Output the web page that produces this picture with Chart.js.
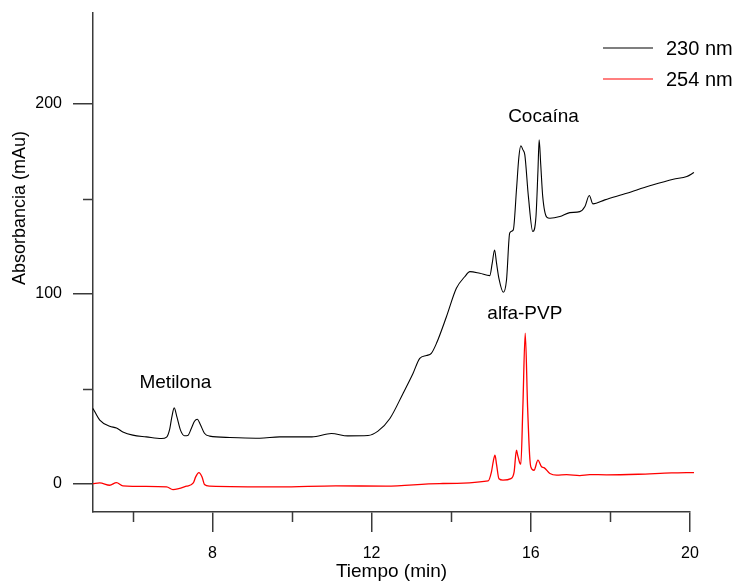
<!DOCTYPE html>
<html>
<head>
<meta charset="utf-8">
<script src="https://cdn.jsdelivr.net/npm/chart.js@4"></script>
<style>
  html, body { margin: 0; padding: 0; background: #fff; }
  #wrap { width: 738px; height: 582px; }
</style>
</head>
<body>
<div id="wrap"><canvas id="mychart" width="738" height="582"></canvas></div>
<script>
// Tiempo (min) / Absorbancia (mAu)
let t230 = [5.0, 5.17, 5.42, 5.59, 5.75, 6.0, 6.34, 6.72, 6.85, 6.93, 6.98, 7.04, 7.11, 7.2, 7.3, 7.38, 7.47, 7.55, 7.62, 7.7, 7.8, 7.93,
    8.44, 9.19, 9.69, 10.5, 10.99, 11.4, 11.91, 12.16, 12.46, 12.79, 13.04, 13.21, 13.38, 13.5, 13.63, 13.88, 14.13, 14.34, 14.47,
    14.72, 14.97, 15.03, 15.09, 15.14, 15.2, 15.31, 15.39, 15.47, 15.56, 15.64, 15.7, 15.75, 15.8, 15.85, 15.94, 16.05, 16.13, 16.18,
    16.21, 16.25, 16.3, 16.4, 16.48, 16.73, 16.98, 17.23, 17.36, 17.47, 17.56, 17.86, 18.41, 18.99, 19.58, 19.92, 20.1];
let a230 = [39.6, 33.4, 30.2, 29.3, 27.2, 25.5, 24.6, 23.7, 24.5, 29, 35, 39.9, 35, 28, 25.2, 25.3, 29, 32.8, 33.9, 31, 26.5, 25,
    24.3, 23.9, 24.6, 24.6, 26.4, 25.1, 25.3, 27.6, 34.3, 47.5, 58, 66, 67.5, 68.6, 73.9, 87.9, 102.9, 109, 111.7,
    110.8, 109.6, 116, 123.1, 116, 108, 100.8, 107.3, 132, 133.7, 154.8, 172, 178, 176, 173.2, 151.2, 132.8, 140.7, 165,
    181.2, 168, 151.2, 140.4, 139.8, 140.7, 142.8, 143.3, 146, 151.8, 147.4, 149.5, 153, 156.9, 160.4, 161.8, 163.9];

let t254 = [5.0, 5.17, 5.42, 5.59, 5.75, 6.85, 7.01, 7.35, 7.52, 7.58, 7.66, 7.74, 7.8, 7.93, 9.69, 11.1, 12.36, 13.71, 14.93, 15.01,
    15.06, 15.1, 15.14, 15.2, 15.3, 15.5, 15.58, 15.64, 15.67, 15.72, 15.75, 15.8, 15.86, 15.92, 15.97, 16.0, 16.08, 16.18, 16.27,
    16.33, 16.48, 16.65, 16.9, 17.23, 17.48, 17.9, 18.7, 19.54, 20.1];
let a254 = [0, 0.3, -0.9, 0.5, -1.2, -1.8, -3.2, -1.4, 0.3, 3.5, 5.8, 3.5, -0.5, -1.4, -1.8, -1.2, -1.4, 0, 1.4, 6,
    12, 14.9, 10, 2.5, 1.8, 2.6, 6, 17.6, 15, 11, 10.2, 40, 79.2, 40, 15, 8.8, 7, 12.3, 8.8,
    8.4, 5.3, 4.4, 4.7, 4.2, 4.7, 4.6, 4.9, 5.6, 5.8];

let seriesNames = ['230 nm', '254 nm'];
let seriesColors = ['#000000', '#ff0000'];

let xMajor = [8, 12, 16, 20];
let xMinor = [6, 10, 14, 18];
let yMajor = [0, 100, 200];
let yMinor = [50, 150];

let picos = [
    {name: 'Metilona', t: 7.07, a: 53},
    {name: 'Cocaína', t: 16.32, a: 193.5},
    {name: 'alfa-PVP', t: 15.85, a: 89.7}
];

function pairs(xs, ys) {
    let out = [];
    for (let i = 0; i < xs.length; i++) {
        out.push({x: xs[i], y: ys[i]});
    }
    return out;
}

const FONT = '"Liberation Sans", Arial, sans-serif';
const AXIS = '#3a3a3a';

// minor ticks, legend, peak names and axis titles
const extras = {
    id: 'extras',
    afterDraw(chart) {
        let ctx = chart.ctx;
        let xs = chart.scales.x, ys = chart.scales.y;
        let area = chart.chartArea;
        ctx.save();
        ctx.strokeStyle = AXIS;
        ctx.lineWidth = 1.5;
        ctx.beginPath();
        xMinor.forEach(v => {
            let px = Math.round(xs.getPixelForValue(v)) + 0.5;
            ctx.moveTo(px, area.bottom);
            ctx.lineTo(px, area.bottom + 10);
        });
        yMinor.forEach(v => {
            let py = Math.round(ys.getPixelForValue(v)) + 0.5;
            ctx.moveTo(area.left, py);
            ctx.lineTo(area.left - 10, py);
        });
        ctx.stroke();

        // legend
        ctx.font = '20px ' + FONT;
        ctx.textBaseline = 'middle';
        ctx.textAlign = 'left';
        chart.data.datasets.forEach((ds, i) => {
            let y = 48 + i * 31;
            ctx.strokeStyle = ds.borderColor;
            ctx.lineWidth = 1.2;
            ctx.beginPath();
            ctx.moveTo(603, y);
            ctx.lineTo(653, y);
            ctx.stroke();
            ctx.fillStyle = '#000';
            ctx.fillText(ds.label, 666, y + 1);
        });

        // peak names
        ctx.font = '19px ' + FONT;
        ctx.textAlign = 'center';
        picos.forEach(p => {
            ctx.fillText(p.name, xs.getPixelForValue(p.t), ys.getPixelForValue(p.a));
        });

        // axis titles
        ctx.fillText('Tiempo (min)', (area.left + area.right) / 2, 572);
        ctx.translate(20, 208);
        ctx.rotate(-Math.PI / 2);
        ctx.font = '18px ' + FONT;
        ctx.fillText('Absorbancia (mAu)', 0, 0);
        ctx.restore();
    }
};

let ctx = document.getElementById('mychart').getContext('2d');
let chart = new Chart(ctx, {
    type: 'line',
    data: {
        datasets: [{
            label: seriesNames[0],
            data: pairs(t230, a230),
            borderColor: seriesColors[0],
            borderWidth: 1.1,
            pointRadius: 0,
            cubicInterpolationMode: 'monotone',
            clip: false
        }, {
            label: seriesNames[1],
            data: pairs(t254, a254),
            borderColor: seriesColors[1],
            borderWidth: 1.3,
            pointRadius: 0,
            cubicInterpolationMode: 'monotone',
            clip: false
        }]
    },
    options: {
        responsive: false,
        animation: false,
        layout: { padding: { left: 0, top: 13, right: 48, bottom: 0 } },
        plugins: {
            legend: { display: false },
            tooltip: { enabled: false }
        },
        scales: {
            x: {
                type: 'linear',
                min: 5,
                max: 20,
                afterBuildTicks: s => { s.ticks = xMajor.map(v => ({value: v})); },
                afterFit: s => { s.height = 70; s.paddingLeft = 0; s.paddingRight = 0; },
                grid: { drawOnChartArea: false, drawTicks: true, tickLength: 20, color: AXIS, lineWidth: 1.5 },
                border: { color: AXIS, width: 1.5 },
                ticks: { color: '#000', font: { family: FONT, size: 16 }, padding: 12, maxRotation: 0 }
            },
            y: {
                type: 'linear',
                min: -15,
                max: 248,
                afterBuildTicks: s => { s.ticks = yMajor.map(v => ({value: v})); },
                afterFit: s => { s.width = 93; s.paddingTop = 0; s.paddingBottom = 0; },
                grid: { drawOnChartArea: false, drawTicks: true, tickLength: 20, color: AXIS, lineWidth: 1.5 },
                border: { color: AXIS, width: 1.5 },
                ticks: { color: '#000', font: { family: FONT, size: 16 }, padding: 11 }
            }
        }
    },
    plugins: [extras]
});
</script>
</body>
</html>
